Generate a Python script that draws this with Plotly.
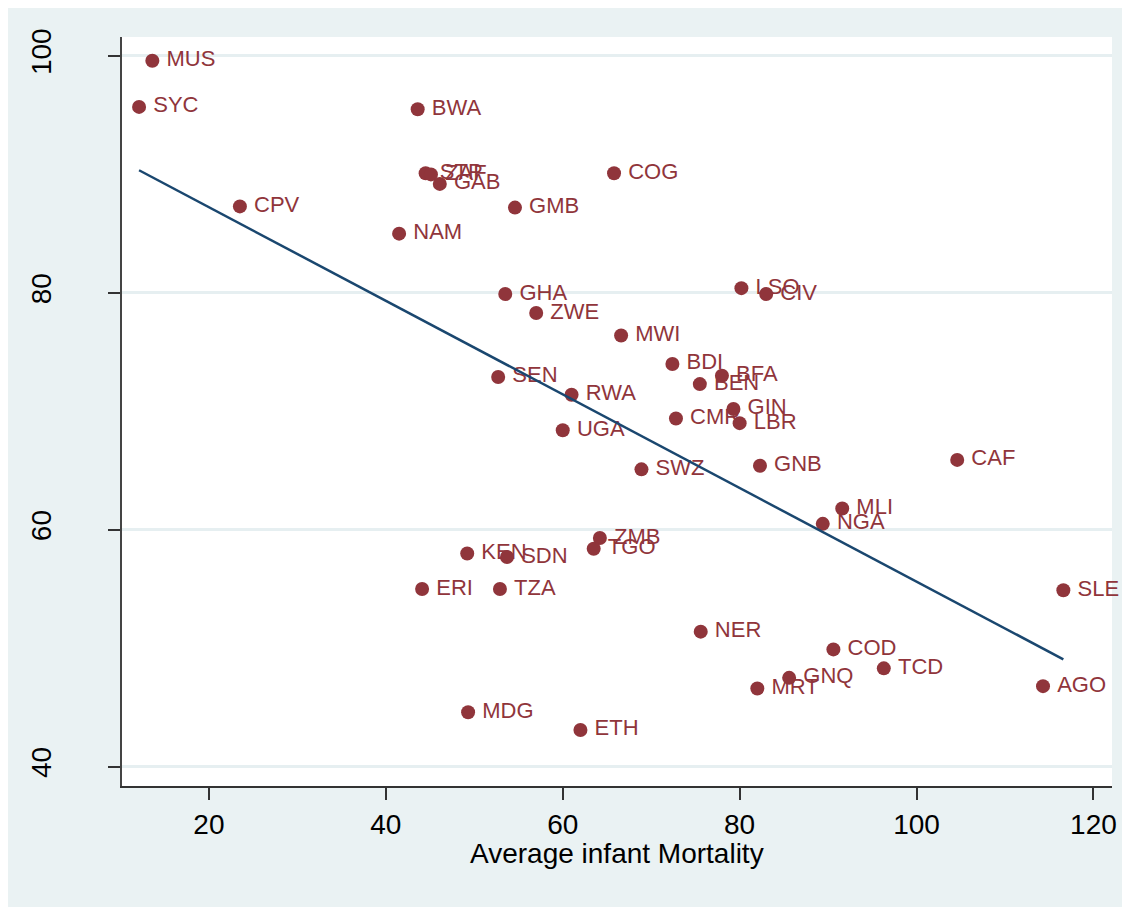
import numpy as np
import plotly.graph_objects as go

countries = ["MUS", "SYC", "BWA", "STP", "ZAF", "GAB", "COG", "CPV", "GMB", "NAM",
             "GHA", "ZWE", "LSO", "CIV", "MWI", "BDI", "BFA", "BEN", "SEN", "RWA",
             "GIN", "CMR", "LBR", "UGA", "CAF", "GNB", "SWZ", "MLI", "NGA", "ZMB",
             "TGO", "KEN", "SDN", "SLE", "ERI", "TZA", "NER", "COD", "TCD", "GNQ",
             "AGO", "MRT", "MDG", "ETH"]
infant_mortality = [13.6, 12.1, 43.6, 44.5, 45.1, 46.1, 65.8, 23.5, 54.6, 41.5,
                    53.5, 57.0, 80.2, 83.0, 66.6, 72.4, 78.0, 75.5, 52.7, 61.0,
                    79.3, 72.8, 80.0, 60.0, 104.6, 82.3, 68.9, 91.6, 89.4, 64.2,
                    63.5, 49.2, 53.7, 116.6, 44.1, 52.9, 75.6, 90.6, 96.3, 85.6,
                    114.3, 82.0, 49.3, 62.0]
outcome = [99.6, 95.7, 95.5, 90.1, 90.0, 89.2, 90.1, 87.3, 87.2, 85.0,
           79.9, 78.3, 80.4, 79.9, 76.4, 74.0, 73.0, 72.3, 72.9, 71.4,
           70.2, 69.4, 69.0, 68.4, 65.9, 65.4, 65.1, 61.8, 60.5, 59.3,
           58.4, 58.0, 57.7, 54.9, 55.0, 55.0, 51.4, 49.9, 48.3, 47.5,
           46.8, 46.6, 44.6, 43.1]
x_ticks = [20, 40, 60, 80, 100, 120]
y_ticks = [40, 60, 80, 100]
x_title = "Average infant Mortality"

x = np.array(infant_mortality)
y = np.array(outcome)
slope, intercept = np.polyfit(x, y, 1)
fit_x = np.array([x.min(), x.max()])
fit_y = intercept + slope * fit_x

MAROON = "#90353B"
NAVY = "#1A476F"
BG = "#EAF2F3"

fig = go.Figure()
fig.add_trace(go.Scatter(
    x=infant_mortality, y=outcome, mode="markers+text",
    text=["\u2009" + c for c in countries],
    textposition="middle right",
    textfont=dict(family="Liberation Sans, Arial", size=22, color=MAROON),
    marker=dict(color=MAROON, size=14, line=dict(width=0)),
    showlegend=False, cliponaxis=False,
))
fig.add_trace(go.Scatter(
    x=fit_x, y=fit_y, mode="lines",
    line=dict(color=NAVY, width=2.5), showlegend=False,
))

fig.update_layout(
    width=1122, height=899,
    margin=dict(l=114, r=18, t=29, b=121),
    paper_bgcolor=BG, plot_bgcolor="white",
    font=dict(family="Liberation Sans, Arial", color="black"),
    annotations=[dict(
        text=x_title, xref="paper", yref="paper", x=0.5, y=(786 - 853) / 749,
        xanchor="center", yanchor="middle", showarrow=False,
        font=dict(size=28, color="black"),
    )],
)
fig.update_xaxes(
    range=[10.17, 122.1], tickvals=x_ticks, ticks="outside", ticklen=12,
    tickwidth=1.5, tickcolor="#333", showline=True, linecolor="#333", linewidth=1.5,
    showgrid=False, zeroline=False, tickfont=dict(size=28), ticklabelstandoff=1,
)
fig.update_yaxes(
    range=[38.37, 101.6], tickvals=y_ticks, ticks="outside", ticklen=12,
    tickwidth=1.5, tickcolor="#333", showline=True, linecolor="#444", linewidth=2,
    showgrid=True, gridcolor="#E6EFF1", gridwidth=3, zeroline=False,
    tickfont=dict(size=28), tickangle=-90, ticklabelstandoff=46,
)

fig.write_html("out.html")
